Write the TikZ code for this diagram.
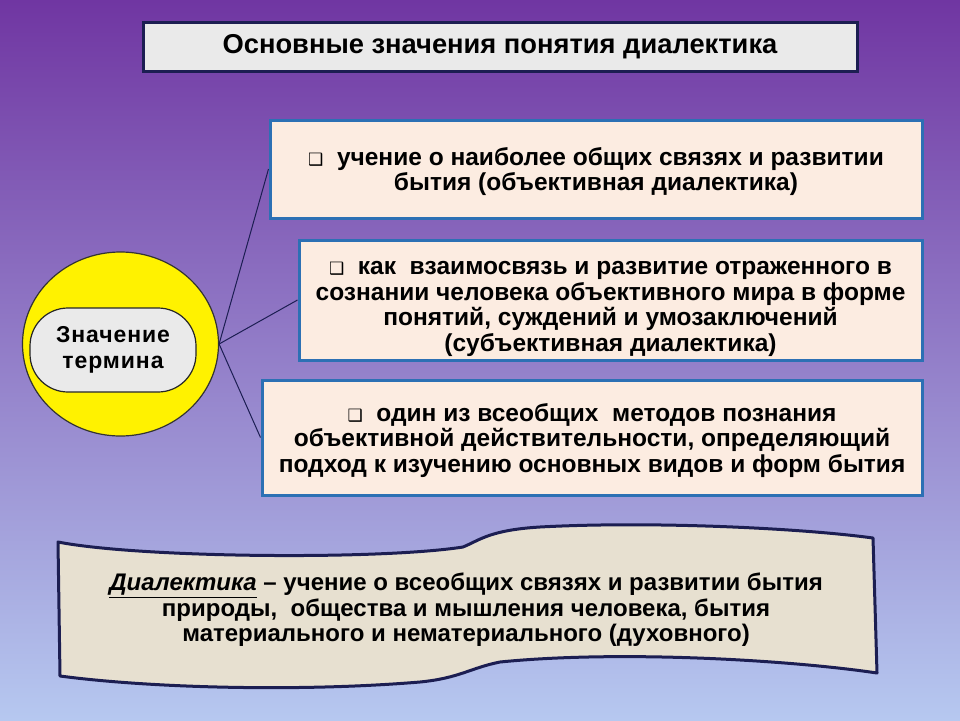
\documentclass[tikz,border=0pt]{standalone}
\usepackage{fontspec}
\setmainfont{Liberation Sans}
\newfontfamily\markfont{DejaVu Sans}
\usepackage{xcolor}
\usetikzlibrary{shapes.geometric}
\definecolor{bgtop}{RGB}{112,54,162}
\definecolor{bgmid}{RGB}{150,118,200}
\definecolor{bgbot}{RGB}{182,200,240}
\definecolor{boxfill}{RGB}{252,236,225}
\definecolor{boxline}{RGB}{44,112,180}
\definecolor{navyline}{RGB}{28,30,82}
\definecolor{greyfill}{RGB}{234,234,234}
\definecolor{scrollfill}{RGB}{231,224,208}
\newcommand{\mrk}[1]{\rule{0pt}{#1}{\markfont\fontsize{17}{17}\selectfont ❑}\ \ }

\begin{document}
\begin{tikzpicture}[x=1pt,y=-1pt,
titlebox/.style={draw=navyline,line width=3pt,fill=greyfill,
minimum width=714pt,minimum height=49pt,font=\fontsize{27.3}{30}\selectfont\bfseries},
meanbox/.style={draw=boxline,line width=3pt,fill=boxfill,align=center,
font=\fontsize{24.5}{25.5}\selectfont\bfseries},
link/.style={draw=navyline,line width=1pt}]
\useasboundingbox (0,0) rectangle (960,720);
\fill[top color=bgtop,middle color=bgmid,bottom color=bgbot] (0,0) rectangle (960,720);
% heading
\node[titlebox] (h) at (500,46.5) {Основные значения понятия диалектика};
% circle with the term
\node[ellipse,draw=black!80,line width=1.2pt,fill=yellow,minimum width=196pt,
minimum height=184pt,inner sep=0pt] (c) at (120.5,344) {};
\node[draw=black!85,line width=1.2pt,fill=greyfill,rounded corners=38pt,
minimum width=166pt,minimum height=84pt,align=center,
font=\fontsize{23}{25.5}\selectfont\bfseries\addfontfeature{LetterSpace=4}] (t) at (113,350) {Значение\\термина};
% meanings
\node[meanbox,minimum width=652pt,minimum height=98pt] (a) at (596,169)
{\mrk{23pt}учение о наиболее общих связях и развитии\\бытия (объективная диалектика)};
\node[meanbox,minimum width=623pt,minimum height=120pt] (b) at (610.5,300)
{\mrk{31pt}как\ \ взаимосвязь и развитие отраженного в\\сознании человека объективного мира в форме\\понятий, суждений и умозаключений\\(субъективная диалектика)};
\node[meanbox,minimum width=660pt,minimum height=115pt] (e) at (592,437.5)
{\mrk{24pt}один из всеобщих\ \ методов познания\\объективной действительности, определяющий\\подход к изучению основных видов и форм бытия};
\draw[link] (c.east) -- (a.west);
\draw[link] (c.east) -- (b.west);
\draw[link] (c.east) -- (e.west);
% scroll with the definition
\draw[navyline,line width=3pt,fill=scrollfill,line join=round]
(58,542) .. controls (140,558) and (380,560) .. (463,547)
.. controls (480,540) and (490,530) .. (540,527)
.. controls (650,521) and (800,528) .. (873,538) -- (877,673)
.. controls (790,660) and (620,650) .. (500,662)
.. controls (470,668) and (460,678) .. (420,682)
.. controls (300,692) and (150,688) .. (60,676) -- cycle;
\node[align=center,font=\fontsize{24}{25.5}\selectfont\bfseries] (d) at (466,610)
{\underline{\textit{Диалектика}} – учение о всеобщих связях и развитии бытия\\природы,\ \ общества и мышления человека, бытия\\материального и нематериального (духовного)};
\end{tikzpicture}
\end{document}
